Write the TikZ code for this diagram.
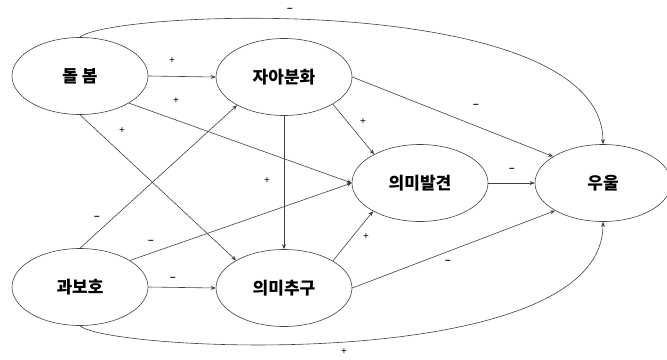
\documentclass[tikz,border=0pt]{standalone}
\usepackage{fontspec}
\setmainfont{Liberation Sans}
\newfontfamily\kr{Noto Sans CJK KR}
\usetikzlibrary{arrows.meta,shapes.geometric}
\begin{document}
\begin{tikzpicture}[x=1pt,y=-1pt,
  var/.style={ellipse,draw=black!75,line width=0.6pt,minimum width=136pt,minimum height=77pt,inner sep=0pt,font=\kr\bfseries\fontsize{17}{17}\selectfont},
  link/.style={draw=black!75,line width=0.6pt,-{Stealth[length=5pt,width=4pt]}},
  sign/.style={font=\fontsize{10}{10}\selectfont,inner sep=0pt},
  neg/.style={sign,font=\bfseries\fontsize{10}{10}\selectfont}]
\useasboundingbox (0,0) rectangle (667,359);
\node[var] (D) at (80,76) {돌 봄};
\node[var] (J) at (284,77) {자아분화};
\node[var] (M) at (420,183) {의미발견};
\node[var] (W) at (603,183) {우울};
\node[var] (G) at (80,287) {과보호};
\node[var] (C) at (284,288) {의미추구};
% connectors
\draw[link] (D.east) -- (J.west);
\draw[link] (D.331) -- (M.west);
\draw[link] (D.south) -- (C.150);
\draw[link] (G.north) -- (J.211);
\draw[link] (G.28) -- (M.west);
\draw[link] (G.east) -- (C.west);
\draw[link] (J.south) -- (C.north);
\draw[link] (J.331) -- (M.148);
\draw[link] (J.east) -- (W.152);
\draw[link] (M.east) -- (W.west);
\draw[link] (C.29) -- (M.211);
\draw[link] (C.east) -- (W.210);
\draw[link] (D.north) .. controls (110,10) and (603,-10) .. (W.north);
\draw[link] (G.south) .. controls (110,352) and (603,375) .. (W.south);
% signs
\node[sign] (s1) at (172,61) {+};
\node[sign] (s2) at (176,101) {+};
\node[sign] (s3) at (122,131) {+};
\node[neg] (s4) at (97,218) {–};
\node[neg] (s5) at (151,242) {–};
\node[neg] (s6) at (173,279) {–};
\node[sign] (s7) at (267,181) {+};
\node[sign] (s8) at (363,122) {+};
\node[neg] (s9) at (476,106) {–};
\node[neg] (s10) at (512,170) {–};
\node[sign] (s11) at (366,237) {+};
\node[neg] (s12) at (448,262) {–};
\node[neg] (s13) at (290,10) {–};
\node[sign] (s14) at (344,352) {+};
\end{tikzpicture}
\end{document}
